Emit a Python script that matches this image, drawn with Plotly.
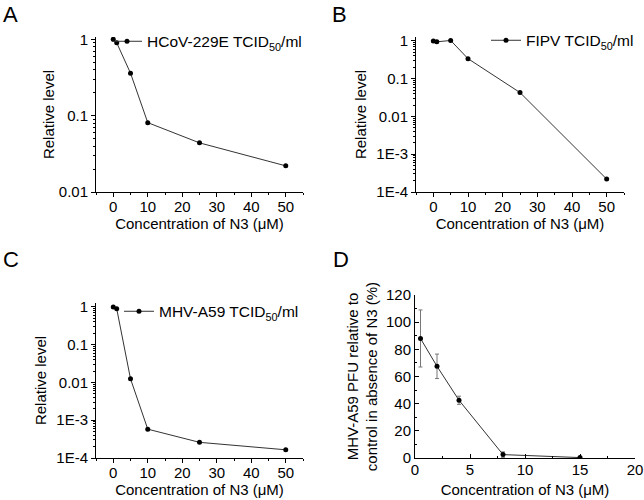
import plotly.graph_objects as go

W, H = 644, 500

# ---- data ----
conc_A = [0, 1, 5, 10, 25, 50]
level_A = [1.0, 0.9, 0.36, 0.081, 0.044, 0.022]

conc_B = [0, 1, 5, 10, 25, 50]
level_B = [1.0, 0.95, 1.03, 0.34, 0.043, 0.00022]

conc_C = [0, 1, 5, 10, 25, 50]
level_C = [1.0, 0.9, 0.0125, 0.00058, 0.00026, 0.000165]

conc_D = [0.5, 2, 4, 8, 15]
pfu_D = [88, 67.5, 42.5, 2.5, 0.3]
err_D = [21, 9, 3, 2, 0.3]

label_A = "HCoV-229E TCID<sub>50</sub>/ml"
label_B = "FIPV TCID<sub>50</sub>/ml"
label_C = "MHV-A59 TCID<sub>50</sub>/ml"
panel_letters = ["A", "B", "C", "D"]

FONT = "Liberation Sans, Arial, sans-serif"
LINE = "#333333"


def px_x(p):
    return p / W


def px_y(p):
    return 1 - p / H


fig = go.Figure()

fig.add_trace(go.Scatter(x=conc_A, y=level_A, mode="lines+markers", name=label_A,
                         line=dict(color=LINE, width=1), marker=dict(color="black", size=5),
                         xaxis="x", yaxis="y", legend="legend"))
fig.add_trace(go.Scatter(x=conc_B, y=level_B, mode="lines+markers", name=label_B,
                         line=dict(color=LINE, width=1), marker=dict(color="black", size=5),
                         xaxis="x2", yaxis="y2", legend="legend2"))
fig.add_trace(go.Scatter(x=conc_C, y=level_C, mode="lines+markers", name=label_C,
                         line=dict(color=LINE, width=1), marker=dict(color="black", size=5),
                         xaxis="x3", yaxis="y3", legend="legend3"))
fig.add_trace(go.Scatter(x=conc_D, y=pfu_D, mode="lines+markers", showlegend=False,
                         line=dict(color=LINE, width=1), marker=dict(color="black", size=5),
                         error_y=dict(type="data", array=err_D, color="#777777", thickness=1, width=2),
                         xaxis="x4", yaxis="y4"))

common_axis = dict(showline=True, linecolor="black", linewidth=1, showgrid=False, zeroline=False,
                   ticks="outside", ticklen=4, tickcolor="black", automargin=False,
                   tickfont=dict(size=15, color="black", family=FONT),
                   title_font=dict(size=15, color="black", family=FONT))

xconc = dict(common_axis, range=[-5, 55], tickvals=[0, 10, 20, 30, 40, 50],
             minor=dict(ticks="outside", ticklen=2, dtick=5, tickcolor="black"),
             ticklabelstandoff=-3,
             title_text="Concentration of N3 (μM)", title_standoff=2)

log_minor = dict(ticks="outside", ticklen=2, tickcolor="black", dtick="D1")

ylogA = dict(common_axis, type="log", range=[-2, 0.03], tickvals=[0.01, 0.1, 1],
             ticktext=["0.01", "0.1", "1"], minor=log_minor,
             title_text="Relative level", title_standoff=0)

ylog4 = dict(common_axis, type="log", range=[-4, 0.105],
             tickvals=[1e-4, 1e-3, 0.01, 0.1, 1], ticktext=["1E-4", "1E-3", "0.01", "0.1", "1"],
             minor=log_minor,
             title_text="Relative level", title_standoff=6)

fig.update_layout(
    width=W, height=H, margin=dict(l=0, r=0, t=0, b=0),
    paper_bgcolor="white", plot_bgcolor="white",
    font=dict(family=FONT, color="black"),
    xaxis=dict(xconc, domain=[px_x(96), px_x(303)], anchor="y"),
    yaxis=dict(ylogA, domain=[px_y(192), px_y(37)], anchor="x"),
    xaxis2=dict(xconc, domain=[px_x(416), px_x(624)], anchor="y2"),
    yaxis2=dict(ylog4, domain=[px_y(192), px_y(37)], anchor="x2"),
    xaxis3=dict(xconc, domain=[px_x(96), px_x(303)], anchor="y3"),
    yaxis3=dict(ylog4, domain=[px_y(458), px_y(303)], anchor="x3"),
    xaxis4=dict(common_axis, range=[0, 20], tickvals=[0, 5, 10, 15, 20],
                ticks="inside",
                minor=dict(ticks="inside", ticklen=2, dtick=2.5, tickcolor="black"),
                ticklabelstandoff=-2,
                title_text="Concentration of N3 (μM)", title_standoff=7,
                domain=[px_x(415), px_x(635)], anchor="y4"),
    yaxis4=dict(common_axis, range=[0, 120], tickvals=[0, 20, 40, 60, 80, 100, 120],
                ticks="inside",
                minor=dict(ticks="inside", ticklen=2, dtick=10, tickcolor="black"),
                title_text="MHV-A59 PFU relative to<br>control in absence of N3 (%)", title_standoff=4,
                domain=[px_y(458), px_y(295)], anchor="x4"),
)

leg_common = dict(bgcolor="rgba(0,0,0,0)", font=dict(size=15.5, family=FONT, color="black"),
                  xanchor="left", yanchor="middle", itemwidth=30)
fig.update_layout(
    legend=dict(leg_common, x=px_x(147 - 40), y=px_y(41.7)),
    legend2=dict(leg_common, x=px_x(526 - 40), y=px_y(40.7)),
    legend3=dict(leg_common, x=px_x(159 - 40), y=px_y(311.7)),
)

letter_pos = [(1, 0), (330, 0), (1, 245), (331, 245)]
for letter, (lx, ly) in zip(panel_letters, letter_pos):
    fig.add_annotation(text=letter, xref="paper", yref="paper", x=px_x(lx), y=px_y(ly),
                       xanchor="left", yanchor="top", showarrow=False,
                       font=dict(size=22, family=FONT, color="black"))

fig.write_html("out.html", config={"displayModeBar": False},
               post_script="document.body.style.margin='0';")
